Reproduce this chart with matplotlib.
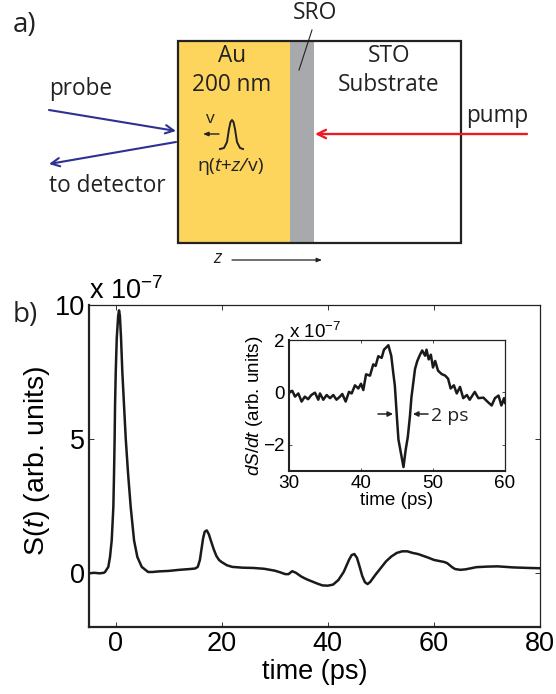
import matplotlib
matplotlib.use("Agg")
from matplotlib import pyplot as plt
from matplotlib.patches import Rectangle

plt.rcParams['font.family'] = ['Liberation Sans', 'DejaVu Sans']
plt.rcParams['mathtext.fontset'] = 'custom'
plt.rcParams['mathtext.rm'] = 'Liberation Sans'
plt.rcParams['mathtext.it'] = 'Liberation Sans:italic'

W, H = 556, 694
SCHEME_FONT = 'Open Sans'

# main trace S(t), units of 1e-7
main_t = [-5, -4, -3, -2.2, -1.98, -1.36, -1.04, -0.72, -0.41, -0.28, -0.17, -0.09, 0.04, 0.23, 0.5, 0.66, 0.82, 1.04,
          1.28, 1.6, 1.92, 2.36, 2.86, 3.49, 4.11, 4.94, 6.13,
          7, 8, 10, 12, 14, 15, 15.5, 15.9, 16.2, 16.5, 16.8, 17.2, 17.6, 18, 18.5, 19, 19.5, 20, 21, 22, 24, 26,
          28, 30, 31, 32, 32.6, 33.3, 34, 35, 36, 37, 38, 39, 40, 41, 42, 43, 44, 44.5, 45, 45.5, 46, 46.5, 47, 47.5,
          48, 49, 50, 51, 52, 53, 54, 55, 56, 57, 58, 59, 60, 61, 62, 62.5, 63, 63.5, 64, 65, 66, 67, 68, 70, 72, 75,
          78, 80]
main_s = [0.0, 0.02, 0.0, 0.02, 0.05, 0.24, 0.61, 1.23, 2.47, 3.73, 5.03, 6.27, 7.51, 8.76, 9.6, 9.8, 9.6, 8.76,
          7.51, 6.27, 5.03, 3.73, 2.47, 1.23, 0.61, 0.24, 0.05,
          0.05, 0.07, 0.09, 0.13, 0.16, 0.18, 0.24, 0.5, 0.9, 1.3, 1.55, 1.6, 1.45, 1.2, 0.9, 0.65, 0.5,
          0.42, 0.3, 0.24, 0.21, 0.2, 0.17, 0.1, 0.04, -0.03, -0.03, 0.08, 0.02, -0.12, -0.22, -0.3, -0.38, -0.45,
          -0.46, -0.42, -0.25, 0.05, 0.5, 0.68, 0.72, 0.58, 0.25, -0.1, -0.33, -0.4, -0.32, -0.05, 0.2, 0.45, 0.63,
          0.76, 0.82, 0.82, 0.76, 0.72, 0.65, 0.58, 0.5, 0.46, 0.42, 0.38, 0.3, 0.22, 0.16, 0.13, 0.15, 0.19, 0.23,
          0.25, 0.26, 0.22, 0.2, 0.19]

# inset derivative dS/dt, units of 1e-7
inset_t = [30, 30.13, 30.46, 30.83, 31.3, 31.75, 32.2, 32.65, 33.1, 33.6, 34.07, 34.3, 34.76, 35.23, 35.7, 36.15, 36.6,
           37.08, 37.4, 37.87, 38.33, 38.7, 39.16, 39.63, 40, 40.32, 40.7, 41.25, 41.7, 42.03, 42.4, 42.87, 43.19,
           43.8, 44.2, 44.5, 44.7, 45, 45.2, 45.6, 45.9, 46.2, 46.5, 46.8, 47, 47.5, 47.82, 48.2, 48.5, 48.9, 49.1,
           49.4, 49.7, 50, 50.3, 50.7, 51.2, 51.7, 52.1, 52.45, 52.9, 53.3, 53.75, 54.2, 54.7, 55.1, 55.8, 56.3, 57,
           57.55, 58.15, 58.6, 59.1, 59.5, 59.86, 60]
inset_y = [-0.05, 0.03, 0.06, -0.16, -0.04, -0.35, -0.16, -0.26, -0.1, -0.01, -0.28, -0.04, -0.28, -0.1, -0.22, -0.1,
           -0.28, -0.16, -0.06, -0.35, 0.02, -0.04, 0.27, 0.15, 0.33, 0.09, 0.69, 0.64, 1.07, 1.01, 1.38, 1.32, 1.63,
           1.8, 1.4, 0.7, 0.26, -1.0, -1.8, -2.4, -2.85, -2.2, -1.7, -0.9, -0.2, 0.89, 1.2, 1.44, 1.6, 1.4, 1.63,
           1.26, 1.44, 0.95, 1.2, 0.83, 0.7, 0.64, 0.52, 0.15, 0.27, -0.04, 0.21, -0.22, -0.1, -0.28, 0.02, -0.22,
           -0.2, -0.35, -0.5, -0.22, -0.12, -0.5, -0.22, -0.4]

main_xticks = [0, 20, 40, 60, 80]
main_yticks = [0, 5, 10]
inset_xticks = [30, 40, 50, 60]
inset_yticks = [-2, 0, 2]


def axes_px(x0, y0, x1, y1):
    # pixel box, y measured from the top of the image
    return [x0 / W, 1 - y1 / H, (x1 - x0) / W, (y1 - y0) / H]


if __name__ == "__main__":
    fig = plt.figure(figsize=(W / 100, H / 100), dpi=100)

    # Overlay in image pixels for the schematic and panel labels
    over = fig.add_axes([0, 0, 1, 1])
    over.set_xlim(0, W)
    over.set_ylim(H, 0)
    over.axis('off')

    # Main panel
    ax = fig.add_axes(axes_px(89, 305, 540, 627))
    ax.plot(main_t, main_s, color='#1a1a1a', lw=1.8)
    ax.set_xlim(-5, 80)
    ax.set_ylim(-2, 10)
    ax.set_xticks(main_xticks)
    ax.set_yticks(main_yticks)
    ax.tick_params(direction='in', top=True, right=True, length=3.5, width=0.7, labelsize=19.5, pad=3, color='#333333')
    ax.set_xlabel('time (ps)', fontsize=19.5, labelpad=1)
    ax.set_ylabel(r'S($\mathit{t}$) (arb. units)', fontsize=20.5)
    ax.yaxis.set_label_coords(-0.082, 0.515)
    for name, spine in ax.spines.items():
        spine.set_linewidth(1.6 if name in ('left', 'bottom') else 0.9)
        spine.set_color('#222222')

    # Inset
    inset = fig.add_axes(axes_px(289, 340, 505, 471))
    inset.plot(inset_t, inset_y, color='#1a1a1a', lw=1.8)
    inset.set_xlim(30, 60)
    inset.set_ylim(-3, 2)
    inset.set_xticks(inset_xticks)
    inset.set_yticks(inset_yticks)
    inset.set_yticklabels(['\u22122', '0', '2'])
    inset.tick_params(direction='in', top=True, right=True, length=2.5, width=0.6, labelsize=13.6, pad=3, color='#333333')
    inset.set_xlabel('time (ps)', fontsize=13.6, labelpad=0)
    inset.set_ylabel(r'$\mathit{dS/dt}$ (arb. units)', fontsize=13.6, labelpad=-1)
    for name, spine in inset.spines.items():
        spine.set_linewidth(1.5 if name in ('left', 'bottom') else 0.9)
        spine.set_color('#222222')
    inset.patch.set_alpha(0)

    # Schematic layers
    over.add_patch(Rectangle((178, 41), 112, 202, fc='#fdd55c', ec='none'))
    over.add_patch(Rectangle((290, 41), 24, 202, fc='#a7a9ac', ec='none'))
    over.add_patch(Rectangle((178, 41), 283, 202, fc='none', ec='#222222', lw=1.6))
    over.plot([299, 312], [70, 30], color='#222222', lw=0.8)

    blue = '#2e3192'
    red = '#ed1c24'
    thin = dict(arrowstyle='->,head_length=0.6,head_width=0.3', shrinkA=0, shrinkB=0)
    over.annotate('', xy=(176, 131), xytext=(49, 110), arrowprops=dict(color=blue, lw=1.5, **thin))
    over.annotate('', xy=(49, 164), xytext=(176, 142), arrowprops=dict(color=blue, lw=1.5, **thin))
    over.annotate('', xy=(315, 134), xytext=(527, 134), arrowprops=dict(color=red, lw=1.7, **thin))
    over.annotate('', xy=(203, 134), xytext=(219, 134),
                  arrowprops=dict(color='#222222', lw=1.0, arrowstyle='-|>,head_length=0.3,head_width=0.12',
                                  shrinkA=0, shrinkB=0))
    over.annotate('', xy=(322, 260), xytext=(232, 260),
                  arrowprops=dict(color='#222222', lw=0.9, arrowstyle='-|>,head_length=0.3,head_width=0.12',
                                  shrinkA=0, shrinkB=0))
    # pulse sketch
    over.plot([220, 224, 227, 229, 230.5, 232, 233.5, 235, 237, 240, 243],
              [149, 148, 142, 129, 122, 120, 122, 129, 142, 148, 149], color='#222222', lw=1.4)

    scheme = [
        ('Au', 232, 56, 16.3), ('200 nm', 232, 85, 16.3), ('STO', 389, 56, 16.3), ('Substrate', 389, 85, 16.3),
        ('SRO', 315, 13, 16.5), ('pump', 497, 116, 16.3), ('v', 210, 119, 12.5),
    ]
    for label, x, y, size in scheme:
        over.text(x, y, label, ha='center', va='center', fontsize=size, family=SCHEME_FONT, color='#222222')
    over.text(49, 89, 'probe', ha='left', va='center', fontsize=16.3, family=SCHEME_FONT, color='#222222')
    over.text(49, 186, 'to detector', ha='left', va='center', fontsize=16.3, family=SCHEME_FONT, color='#222222')
    over.text(197, 166, '\u03b7(', ha='left', va='center', fontsize=14, family=SCHEME_FONT, color='#222222')
    over.text(214, 166, 't+z/', ha='left', va='center', fontsize=14, family=SCHEME_FONT, style='italic', color='#222222')
    over.text(248, 166, 'v)', ha='left', va='center', fontsize=14, family=SCHEME_FONT, color='#222222')
    over.text(222, 258, 'z', ha='right', va='center', fontsize=13.5, family=SCHEME_FONT, style='italic', color='#222222')
    over.text(13, 25, 'a)', ha='left', va='center', fontsize=20, family=SCHEME_FONT, color='#222222')
    over.text(13, 315, 'b)', ha='left', va='center', fontsize=20, family=SCHEME_FONT, color='#222222')

    # Exponent labels
    over.text(89, 291, r'x 10$^{-7}$', ha='left', va='center', fontsize=19.5)
    over.text(289, 332, r'x 10$^{-7}$', ha='left', va='center', fontsize=13.6)

    # 2 ps width marker in the inset
    small = dict(color='#222222', lw=1.1, arrowstyle='-|>,head_length=0.3,head_width=0.15', shrinkA=0, shrinkB=0)
    over.annotate('', xy=(393, 414), xytext=(378, 414), arrowprops=small)
    over.annotate('', xy=(413, 414), xytext=(428, 414), arrowprops=small)
    over.text(431, 416, '2 ps', ha='left', va='center', fontsize=14, family=SCHEME_FONT, color='#222222')

    over.set_zorder(5)
    fig.savefig('out.png', dpi=100)
